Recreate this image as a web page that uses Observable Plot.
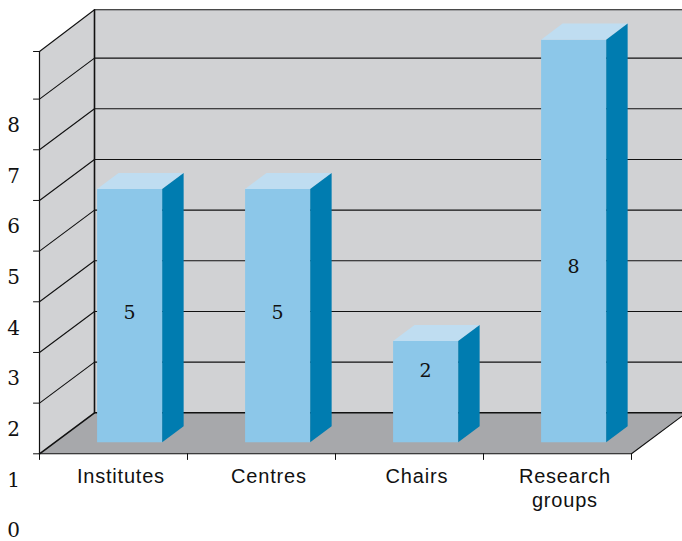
<!DOCTYPE html>
<html>
<head>
<meta charset="utf-8">
<script src="https://cdn.jsdelivr.net/npm/d3@7"></script>
<script src="https://cdn.jsdelivr.net/npm/@observablehq/plot@0.6"></script>
<style>
  html, body { margin: 0; padding: 0; background: #fff; overflow: hidden; }
  svg { display: block; }
  g[font-family="Liberation Sans"] text { letter-spacing: 0.8px; }
</style>
</head>
<body>
<div id="chart"></div>
<script>
// Number of units per category
const categories = ["Institutes", "Centres", "Chairs", "Research\ngroups"];
const values = [5, 5, 2, 8];
const valueTicks = [0, 1, 2, 3, 4, 5, 6, 7, 8];

// Oblique projection: how far the full depth of the box shifts, in data units
const DEPTH_X = 55 / 148;
const DEPTH_Y = 41 / 50.66;
const project = (cat, val, depth = 0) => ({x: cat + depth * DEPTH_X, y: val + depth * DEPTH_Y});

// Bars sit inside the box: horizontal slot and depth range
const BAR_LEFT = 0.285, BAR_WIDTH = 0.44, BAR_FRONT = 0.28, BAR_BACK = 0.67;
// Height on the value axis at which each count is printed
const labelHeights = [2.79, 2.79, 1.644, 3.68];

const face = (points, fill) => Plot.line(points, {x: "x", y: "y", fill, stroke: "none"});
const edge = (points, strokeWidth = 1, stroke = "#111") =>
  Plot.line(points, {x: "x", y: "y", stroke, strokeWidth});

const nCats = categories.length;
const topV = valueTicks[valueTicks.length - 1];

const barFaces = values.flatMap((v, i) => {
  const l = i + BAR_LEFT, r = l + BAR_WIDTH;
  return [
    face([project(l, 0, BAR_FRONT), project(r, 0, BAR_FRONT), project(r, v, BAR_FRONT), project(l, v, BAR_FRONT)], "#8cc7e9"),
    face([project(l, v, BAR_FRONT), project(r, v, BAR_FRONT), project(r, v, BAR_BACK), project(l, v, BAR_BACK)], "#bfddf1"),
    face([project(r, 0, BAR_FRONT), project(r, 0, BAR_BACK), project(r, v, BAR_BACK), project(r, v, BAR_FRONT)], "#007cb0")
  ];
});

const chart = Plot.plot({
  width: 682,
  height: 541,
  margin: 0,
  x: {type: "linear", domain: [0, nCats], range: [39, 631], axis: null},
  // The uppermost band of the box is slightly shorter than the others
  y: {type: "linear", domain: [0, 7 + DEPTH_Y, topV, topV + DEPTH_Y], range: [453.3, 57.6, 51, 9.3], axis: null},
  marks: [
    // Walls and floor
    face([project(0, 0, 1), project(nCats, 0, 1), project(nCats, topV, 1), project(0, topV, 1)], "#d1d2d4"),
    face([project(0, 0, 0), project(0, 0, 1), project(0, topV, 1), project(0, topV, 0)], "#d1d2d4"),
    face([project(0, 0, 0), project(nCats, 0, 0), project(nCats, 0, 1), project(0, 0, 1)], "#a7a8ab"),

    // Gridlines run along the back wall and down the side wall
    ...valueTicks.map(v => edge([project(0, v, 0), project(0, v, 1), project(nCats, v, 1)], v === 0 ? 1.6 : 1.1)),
    edge([project(0, 0, 1), project(0, topV, 1)], 1.6),
    edge([project(0, 0, 0), project(0, topV, 0)], 1.2),
    edge([project(0, 0, 0), project(nCats, 0, 0), project(nCats, 0, 1)], 1.1),

    // Tick marks on the front edges
    Plot.ruleY(valueTicks, {y: d => d, x1: () => -0.04, x2: () => 0, stroke: "#111", strokeWidth: 1}),
    Plot.ruleX(d3.range(nCats + 1), {x: d => d, y1: () => 0, y2: () => -0.13, stroke: "#111", strokeWidth: 1}),

    ...barFaces,

    // Counts on the bars
    Plot.text(values, {
      x: (d, i) => i + BAR_LEFT + BAR_WIDTH / 2 + BAR_FRONT * DEPTH_X,
      y: (d, i) => labelHeights[i],
      text: d => String(d),
      fontFamily: "DejaVu Serif",
      fontSize: 19,
      fill: "#111"
    }),

    // Value labels, set below their ticks at an even spacing
    Plot.text(valueTicks, {
      x: () => -0.175,
      y: d => d === topV ? d + 0.06 : d,
      dy: 77.2,
      text: d => String(d),
      fontFamily: "DejaVu Serif",
      fontSize: 20,
      fill: "#111"
    }),

    // Category labels
    Plot.text(categories, {
      x: (d, i) => i + 0.55,
      y: () => 0,
      dy: 12.5,
      lineAnchor: "top",
      text: d => d,
      textAnchor: "middle",
      fontFamily: "Liberation Sans",
      fontSize: 20,
      lineHeight: 1.2,
      fill: "#111"
    })
  ]
});

document.getElementById("chart").appendChild(chart);
</script>
</body>
</html>
